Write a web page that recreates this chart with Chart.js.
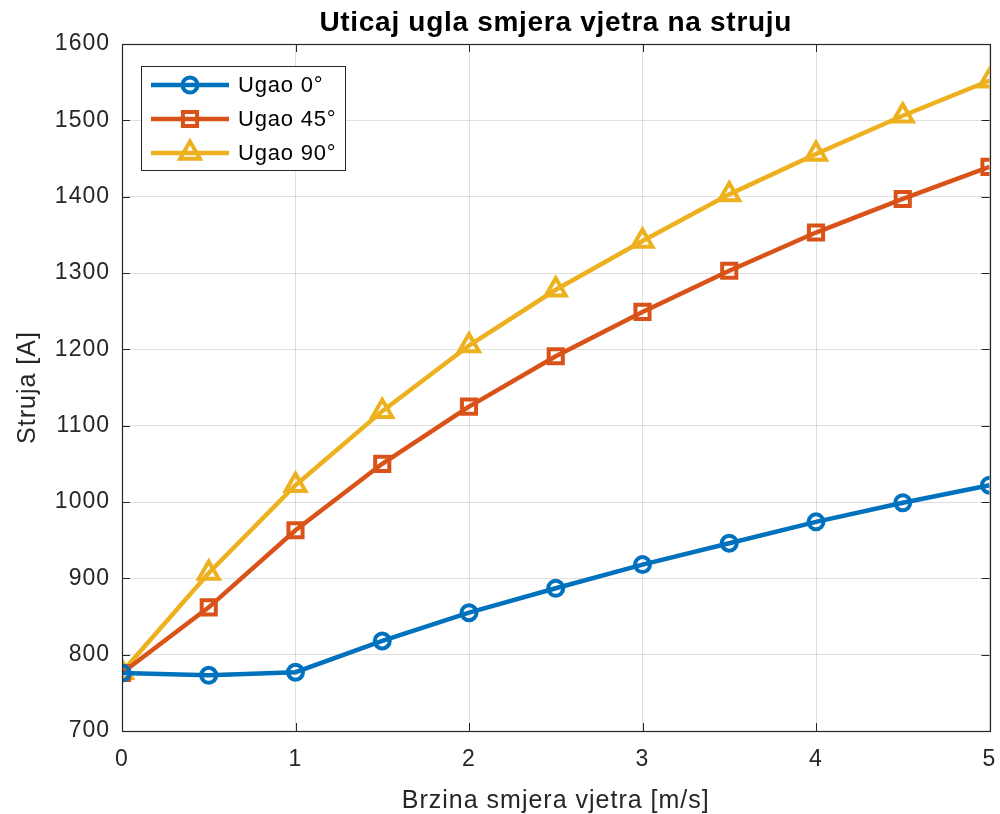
<!DOCTYPE html>
<html>
<head>
<meta charset="utf-8">
<script src="https://cdn.jsdelivr.net/npm/chart.js@4.4.1/dist/chart.umd.min.js"></script>
<style>
  html, body { margin: 0; padding: 0; background: #ffffff; overflow: hidden; }
  #wrap { width: 1000px; height: 814px; position: relative; overflow: hidden; }
  #c { position: absolute; left: 0; top: 0; }
</style>
</head>
<body>
<div id="wrap"><canvas id="c" width="1005" height="814"></canvas></div>
<script>
// Wind speed [m/s]
const brzina = [0, 0.5, 1, 1.5, 2, 2.5, 3, 3.5, 4, 4.5, 5];
// Current [A] for each wind direction angle
const ugao0  = [776, 773, 777, 818, 855, 887, 918, 946, 974, 999, 1022];
const ugao45 = [776, 862, 963, 1050, 1125, 1191, 1249, 1303, 1353, 1397, 1439];
const ugao90 = [777, 907, 1022, 1119, 1205, 1278, 1342, 1403, 1456, 1506, 1552];
const seriesNames = ['Ugao 0°', 'Ugao 45°', 'Ugao 90°'];
const yTicks = [700, 800, 900, 1000, 1100, 1200, 1300, 1400, 1500, 1600];
const xTicks = [0, 1, 2, 3, 4, 5];

const FONT = '"Liberation Sans", Arial, Helvetica, sans-serif';
const INK = '#262626';

function pts(ys) { return brzina.map((x, i) => ({ x: x, y: ys[i] })); }

const styles = [
  { color: '#0072BD', shape: 'circle', r: 7.5 },
  { color: '#D95319', shape: 'rect', r: 10 },
  { color: '#EDB120', shape: 'triangle', r: 11.5 }
];
const allSeries = [ugao0, ugao45, ugao90];

const datasets = allSeries.map((s, i) => ({
  label: seriesNames[i],
  data: pts(s),
  borderColor: styles[i].color,
  backgroundColor: 'rgba(0,0,0,0)',
  borderWidth: 4.5,
  pointStyle: styles[i].shape,
  pointRadius: styles[i].r,
  pointHoverRadius: styles[i].r,
  pointBorderWidth: 4,
  pointBorderColor: styles[i].color,
  pointBackgroundColor: 'rgba(0,0,0,0)',
  tension: 0
}));

// Slightly wider glyph spacing for all canvas text
const spacing = {
  id: 'spacing',
  beforeDraw(chart) { chart.ctx.letterSpacing = '1px'; }
};

// Box, inward ticks, x tick labels, title, axis labels and inset legend
const decor = {
  id: 'decor',
  afterDatasetsDraw(chart) {
    const ctx = chart.ctx;
    const a = chart.chartArea;
    const xs = chart.scales.x, ys = chart.scales.y;
    ctx.save();
    // inward ticks on all four sides
    ctx.strokeStyle = INK;
    ctx.lineWidth = 1;
    const tl = 8;
    yTicks.forEach(v => {
      const y = Math.round(ys.getPixelForValue(v)) + 0.5;
      ctx.beginPath();
      ctx.moveTo(a.left, y); ctx.lineTo(a.left + tl, y);
      ctx.moveTo(a.right, y); ctx.lineTo(a.right - tl, y);
      ctx.stroke();
    });
    xTicks.forEach(v => {
      const x = Math.round(xs.getPixelForValue(v)) + 0.5;
      ctx.beginPath();
      ctx.moveTo(x, a.bottom); ctx.lineTo(x, a.bottom - tl);
      ctx.moveTo(x, a.top); ctx.lineTo(x, a.top + tl);
      ctx.stroke();
    });
    // axes box
    ctx.lineWidth = 1.2;
    ctx.strokeRect(Math.round(a.left) + 0.5, Math.round(a.top) + 0.5,
                   Math.round(a.right - a.left), Math.round(a.bottom - a.top));

    // x tick labels
    ctx.fillStyle = INK;
    ctx.letterSpacing = '1px';
    ctx.font = '23px ' + FONT;
    ctx.textAlign = 'center';
    ctx.textBaseline = 'middle';
    xTicks.forEach(v => {
      ctx.fillText(String(v), xs.getPixelForValue(v), a.bottom + 29);
    });

    // title
    ctx.fillStyle = '#000000';
    ctx.letterSpacing = '0.7px';
    ctx.font = 'bold 28px ' + FONT;
    ctx.fillText('Uticaj ugla smjera vjetra na struju', (a.left + a.right) / 2, 23);

    // axis titles
    ctx.fillStyle = INK;
    ctx.letterSpacing = '1px';
    ctx.font = '25px ' + FONT;
    ctx.fillText('Brzina smjera vjetra [m/s]', (a.left + a.right) / 2, 801);
    ctx.save();
    ctx.translate(28, (a.top + a.bottom) / 2);
    ctx.rotate(-Math.PI / 2);
    ctx.fillText('Struja [A]', 0, 0);
    ctx.restore();

    // legend
    const lx = 141.5, ly = 66.5, lw = 204, lh = 104;
    ctx.fillStyle = '#ffffff';
    ctx.fillRect(lx, ly, lw, lh);
    ctx.strokeStyle = INK;
    ctx.lineWidth = 1;
    ctx.strokeRect(lx, ly, lw, lh);
    const rows = [85, 119, 153];
    chart.data.datasets.forEach((ds, i) => {
      const y = rows[i];
      ctx.strokeStyle = ds.borderColor;
      ctx.lineWidth = 4.5;
      ctx.beginPath();
      ctx.moveTo(151, y); ctx.lineTo(229, y);
      ctx.stroke();
      ctx.fillStyle = 'rgba(0,0,0,0)';
      ctx.lineWidth = 4;
      Chart.helpers.drawPoint(ctx, {
        pointStyle: ds.pointStyle,
        radius: ds.pointRadius,
        borderWidth: 4,
        rotation: 0
      }, 190, y);
      ctx.fillStyle = '#000000';
      ctx.font = '22px ' + FONT;
      ctx.letterSpacing = '0.8px';
      ctx.textAlign = 'left';
      ctx.textBaseline = 'middle';
      ctx.fillText(ds.label, 238, y + 1);
    });
    ctx.restore();
  }
};

new Chart(document.getElementById('c'), {
  type: 'line',
  data: { datasets: datasets },
  options: {
    responsive: false,
    animation: false,
    devicePixelRatio: 1,
    layout: { padding: { top: 44, right: 10, bottom: 0, left: 0 } },
    plugins: {
      legend: { display: false },
      title: { display: false },
      tooltip: { enabled: false }
    },
    scales: {
      x: {
        type: 'linear',
        min: 0, max: 5,
        afterFit(s) { s.height = 83; },
        afterBuildTicks(s) { s.ticks = xTicks.map(v => ({ value: v })); },
        ticks: { display: false },
        grid: { color: 'rgba(0,0,0,0.12)', lineWidth: 1, drawTicks: false },
        border: { display: false }
      },
      y: {
        type: 'linear',
        min: 700, max: 1600,
        afterFit(s) { s.width = 122; },
        afterBuildTicks(s) { s.ticks = yTicks.map(v => ({ value: v })); },
        ticks: { color: INK, font: { family: FONT, size: 23 }, padding: 12,
                 callback: v => String(v) },
        grid: { color: 'rgba(0,0,0,0.12)', lineWidth: 1, drawTicks: false },
        border: { display: false }
      }
    }
  },
  plugins: [spacing, decor]
});
</script>
</body>
</html>
